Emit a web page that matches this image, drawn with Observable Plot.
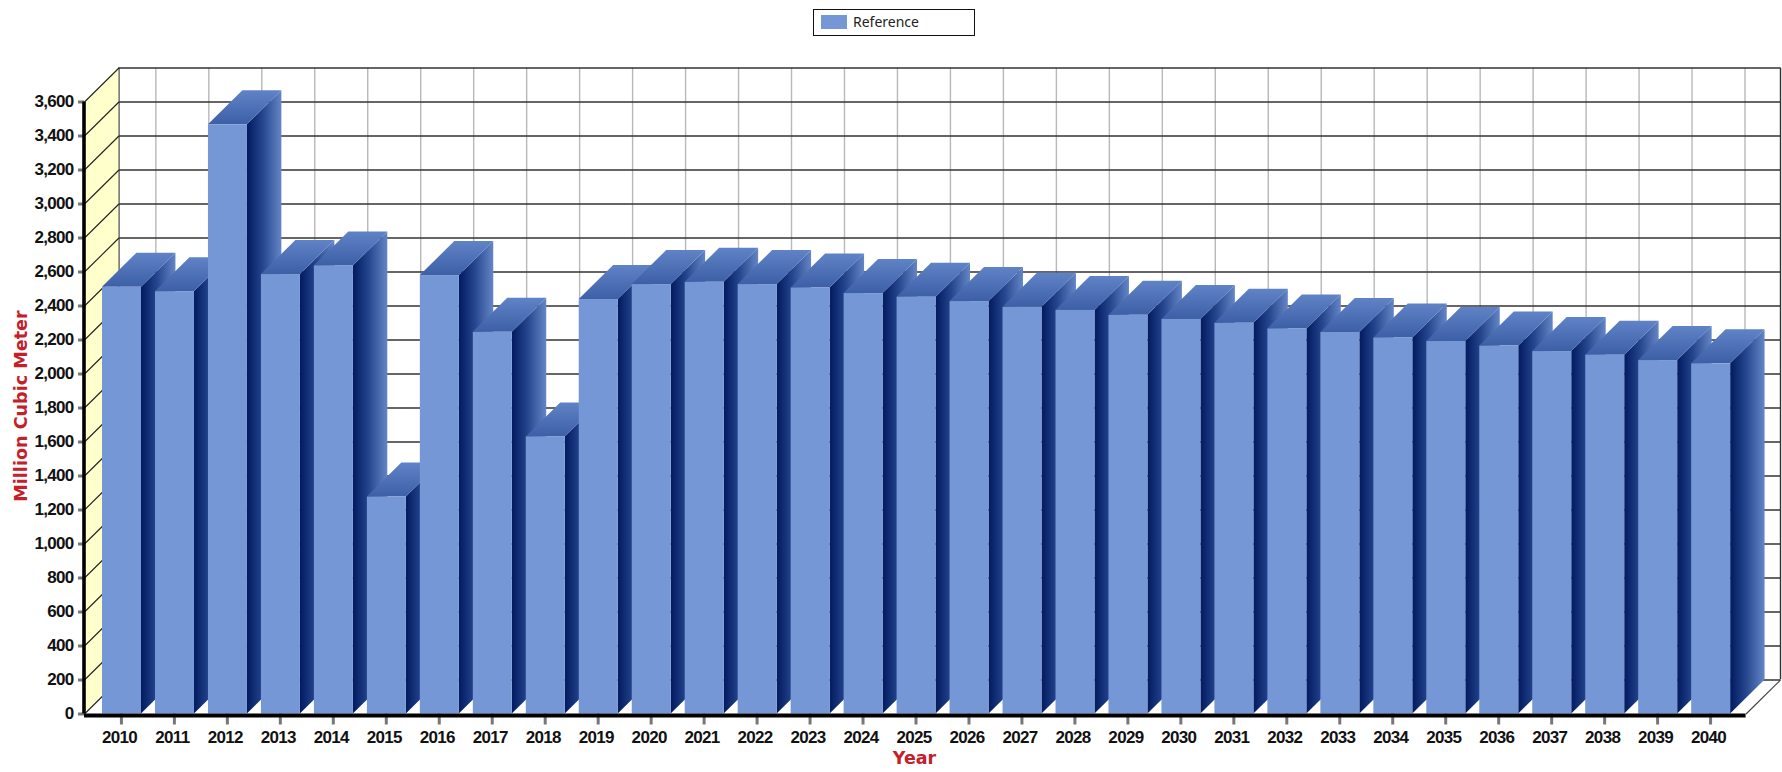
<!DOCTYPE html>
<html>
<head>
<meta charset="utf-8">
<script src="https://cdn.jsdelivr.net/npm/d3@7"></script>
<script src="https://cdn.jsdelivr.net/npm/@observablehq/plot@0.6"></script>
<style>
  html, body { margin: 0; padding: 0; background: #fff; overflow: hidden; }
  #chart { position: relative; width: 1782px; height: 772px; }
  #chart svg { display: block; }
  #chart svg g[aria-label="x-axis tick label"],
  #chart svg g[aria-label="y-axis tick label"] {
    font: bold 17px "Liberation Sans", sans-serif;
    letter-spacing: -0.7px;
  }
  #legend {
    position: absolute; left: 813px; top: 9px; width: 160px; height: 25px;
    border: 1px solid #111; background: #fff; box-sizing: content-box;
    font: 14px "Noto Sans", sans-serif; color: #222;
  }
  #legend i { position: absolute; left: 7px; top: 5px; width: 26px; height: 14px; background: #7597d6; }
  #legend span { position: absolute; left: 39px; top: 2px; }
</style>
</head>
<body>
<div id="chart">
  <div id="legend"><i></i><span>Reference</span></div>
</div>
<script>
const years = d3.range(2010, 2041);
const reference = [
  2511, 2484, 3466, 2585, 2636, 1276, 2579, 2245, 1630, 2438,
  2526, 2539, 2526, 2506, 2473, 2452, 2426, 2392, 2374, 2345,
  2321, 2298, 2265, 2244, 2212, 2191, 2164, 2132, 2111, 2079, 2060
];
const valueTicks = d3.range(0, 3601, 200);

// The box has a fixed depth expressed in axis units: 0.65 year across, 200 up.
const depthX = 0.65;
const depthY = 200;
const barLeft = -0.357;
const barRight = 0.379;
const xStart = 2009.303;
const xEnd = 2041.32;
const xFrontEnd = xEnd - depthX;
const xWall = xStart + depthX;

const bars = years.map((year, i) => ({
  year, value: reference[i], x1: year + barLeft, x2: year + barRight
}));

// Each bar's right side and top are parallelograms, drawn as two-edged areas.
const sides = bars.flatMap(b => [
  {year: b.year, x: b.x2, y1: 0, y2: b.value},
  {year: b.year, x: b.x2 + depthX, y1: depthY, y2: b.value + depthY}
]);
const tops = bars.flatMap(b => [
  {year: b.year, x: b.x1, y1: b.value, y2: b.value},
  {year: b.year, x: b.x1 + depthX, y1: b.value, y2: b.value + depthY},
  {year: b.year, x: b.x2, y1: b.value, y2: b.value + depthY},
  {year: b.year, x: b.x2 + depthX, y1: b.value + depthY, y2: b.value + depthY}
]);
const wall = [
  {x: xStart, y1: 0, y2: 3600},
  {x: xWall, y1: depthY, y2: 3600 + depthY}
];

const gradients = () => {
  const svgNS = "http://www.w3.org/2000/svg";
  const defs = document.createElementNS(svgNS, "defs");
  const add = (id, x2, y2, stops) => {
    const g = document.createElementNS(svgNS, "linearGradient");
    g.setAttribute("id", id);
    g.setAttribute("x1", 0); g.setAttribute("y1", y2 ? 1 : 0);
    g.setAttribute("x2", x2); g.setAttribute("y2", 0);
    stops.forEach(([offset, color]) => {
      const s = document.createElementNS(svgNS, "stop");
      s.setAttribute("offset", offset);
      s.setAttribute("stop-color", color);
      g.appendChild(s);
    });
    defs.appendChild(g);
  };
  add("sideShade", 1, 0, [[0, "#021a60"], [0.45, "#24458c"], [1, "#6486c6"]]);
  add("topShade", 0, 1, [[0, "#3d5fa5"], [1, "#6083c8"]]);
  return defs;
};

const chart = Plot.plot({
  width: 1782,
  height: 772,
  marginTop: 67.5,
  marginBottom: 58.5,
  marginLeft: 84,
  marginRight: 2,
  style: {background: "transparent", overflow: "visible"},
  x: {domain: [xStart, xEnd], label: null},
  y: {domain: [0, 3800], label: null},
  marks: [
    gradients,
    // Back wall and floor edge
    Plot.ruleX(years.map(y => y + depthX), {y1: depthY, y2: 3600 + depthY, stroke: "#b8b8b8", strokeWidth: 1.4}),
    Plot.ruleY(valueTicks.map(v => v + depthY), {x1: xWall, x2: xEnd, stroke: "#333", strokeWidth: 1.4}),
    Plot.ruleX([xWall, xEnd], {y1: depthY, y2: 3600 + depthY, stroke: "#333", strokeWidth: 1.4}),
    Plot.link([{x1: xFrontEnd, y1: 0, x2: xEnd, y2: depthY}], {
      x1: "x1", y1: "y1", x2: "x2", y2: "y2", stroke: "#444", strokeWidth: 1.2
    }),
    // Side wall with its slanted grid lines
    Plot.areaY(wall, {x: "x", y1: "y1", y2: "y2", fill: "#ffffcc"}),
    Plot.link(valueTicks, {x1: xStart, x2: xWall, y1: d => d, y2: d => d + depthY, stroke: "#222", strokeWidth: 1.1}),
    // Axes: the year tick marks and their labels are separate so the labels can sit slightly left
    Plot.axisX({ticks: years, tickSize: 11, stroke: "#777", strokeWidth: 3, fill: "none", label: null}),
    Plot.axisX({
      ticks: years, tickFormat: d => String(d), tickSize: 0, tickPadding: 17, dx: -2,
      fill: "#111", label: null
    }),
    Plot.axisY({
      ticks: valueTicks, tickFormat: d3.format(","), tickSize: 6, tickPadding: 5,
      stroke: "#777", strokeWidth: 3, fill: "#111", label: null
    }),
    // Bars: sides first, then tops, then fronts, so nearer faces cover farther ones
    Plot.areaY(sides, {x: "x", y1: "y1", y2: "y2", z: "year", fill: "url(#sideShade)"}),
    Plot.areaY(tops, {x: "x", y1: "y1", y2: "y2", z: "year", fill: "url(#topShade)"}),
    Plot.rect(bars, {x1: "x1", x2: "x2", y1: 0, y2: "value", fill: "#7597d6"}),
    // Heavy axis lines
    Plot.ruleX([xStart], {y1: 0, y2: 3600, stroke: "#000", strokeWidth: 3.6, dx: -0.5}),
    Plot.ruleY([0], {x1: xStart, x2: xFrontEnd, stroke: "#000", strokeWidth: 4, dy: 1.5}),
    // Axis titles
    Plot.text(["Year"], {
      frameAnchor: "bottom", dx: -18, dy: 50, text: d => d, fill: "#c4202a",
      fontFamily: "'DejaVu Sans', sans-serif", fontWeight: "bold", fontSize: 17.5
    }),
    Plot.text(["Million Cubic Meter"], {
      frameAnchor: "left", textAnchor: "middle", dx: -63, dy: 15, rotate: -90, text: d => d, fill: "#c4202a",
      fontFamily: "'DejaVu Sans', sans-serif", fontWeight: "bold", fontSize: 17.6
    })
  ]
});
document.getElementById("chart").prepend(chart);
</script>
</body>
</html>
